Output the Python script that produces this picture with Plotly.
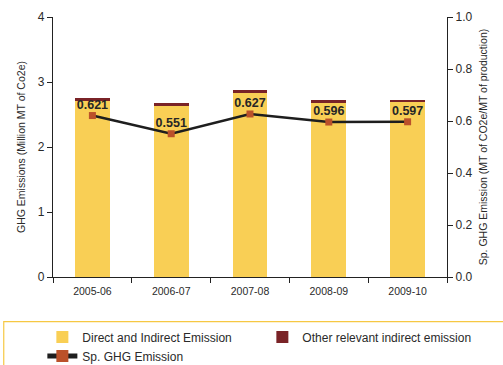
import plotly.graph_objects as go

years = ["2005-06", "2006-07", "2007-08", "2008-09", "2009-10"]
direct_indirect = [2.72, 2.64, 2.84, 2.69, 2.70]
other_indirect = [0.03, 0.03, 0.03, 0.03, 0.03]
sp_ghg = [0.621, 0.551, 0.627, 0.596, 0.597]

YELLOW = "#f9cf55"
RED = "#7a2327"
FONT = "Liberation Sans, Arial, sans-serif"

fig = go.Figure()
fig.add_trace(go.Bar(x=years, y=direct_indirect, name="Direct and Indirect Emission",
                     marker=dict(color=YELLOW, line=dict(width=0)), width=0.44))
fig.add_trace(go.Bar(x=years, y=other_indirect, name="Other relevant indirect emission",
                     marker=dict(color=RED, line=dict(width=0)), width=0.44))
fig.add_trace(go.Scatter(x=years, y=sp_ghg, name="Sp. GHG Emission", yaxis="y2",
                         mode="lines+markers",
                         line=dict(color="#1e1e1e", width=2.5),
                         marker=dict(symbol="square", size=7, color="#bb512a")))
fig.add_trace(go.Scatter(x=years, y=sp_ghg, yaxis="y2", mode="markers+text", showlegend=False,
                         text=[f"<b>{v:.3f}</b>" for v in sp_ghg],
                         textposition="top center",
                         marker=dict(size=4, opacity=0),
                         textfont=dict(size=12.5, color="#262626", family=FONT),
                         hoverinfo="skip"))

fig.update_layout(
    width=503, height=365,
    margin=dict(l=53, r=56, t=17, b=88, autoexpand=False),
    barmode="stack",
    plot_bgcolor="white", paper_bgcolor="white",
    font=dict(family=FONT, color="#2a2a2a"),
    showlegend=True,
    xaxis=dict(type="category", showline=True, linecolor="#222", linewidth=1.2, ticks="outside",
               tickson="boundaries", ticklen=5, tickcolor="#222", automargin=False,
               ticklabelstandoff=4,
               tickfont=dict(size=10.5, color="#2a2a2a"), range=[-0.5, 4.5]),
    yaxis=dict(range=[0, 4], dtick=1, showline=True, linecolor="#222", linewidth=1.2,
               ticks="outside", ticklen=5, tickcolor="#222", showgrid=False, zeroline=False,
               tickfont=dict(size=12, color="#2a2a2a"), automargin=False,
               title=dict(text="GHG Emissions (Million MT of Co2e)", font=dict(size=10.5), standoff=10)),
    yaxis2=dict(range=[0, 1], dtick=0.2, tickformat=".1f", overlaying="y", side="right",
                showline=True, linecolor="#222", linewidth=1.2, ticks="outside", ticklen=5,
                tickcolor="#222", showgrid=False, zeroline=False, automargin=False,
                tickfont=dict(size=12, color="#2a2a2a"),
                title=dict(text="Sp. GHG Emission (MT of CO2e/MT of production)", font=dict(size=10.5), standoff=8)),
    legend=dict(orientation="h", x=-0.027, y=-0.175, xanchor="left", yanchor="top",
                entrywidth=175, entrywidthmode="pixels", traceorder="normal",
                font=dict(size=12, color="#2a2a2a"), bgcolor="rgba(0,0,0,0)",
                tracegroupgap=0, itemsizing="constant"),
    shapes=[dict(type="rect", xref="paper", yref="paper", x0=-0.125, x1=1.2,
                 y0=-0.172, y1=-0.5, line=dict(color="#f6c843", width=1.2),
                 fillcolor="rgba(0,0,0,0)", layer="below")],
)

fig.write_html("out.html")
